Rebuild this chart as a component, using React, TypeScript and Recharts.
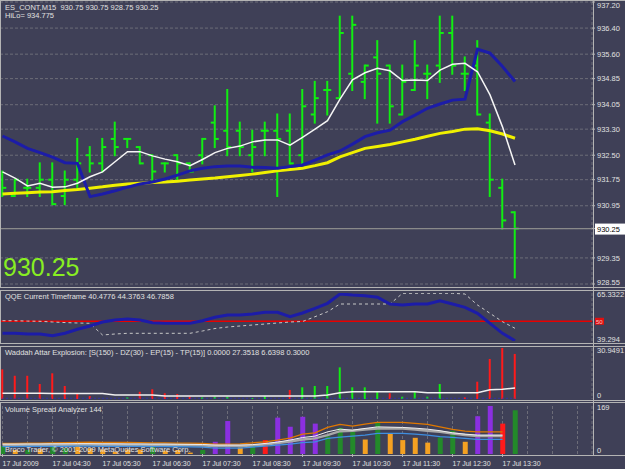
import React from 'react';
import {
  ComposedChart,
  Bar,
  Line,
  XAxis,
  YAxis,
  CartesianGrid,
  ReferenceLine,
  Cell
} from 'recharts';

const FONT = '"Liberation Sans", Arial, sans-serif';
const BG = '#3f4057';
const GRID = '#6c6c78';
const TEXT = '#e0e0e0';
const W = 625;
const X_DOMAIN = [-0.2, 47.16];
const GRID_TICKS = [0, 2, 4, 6, 8, 10, 12, 14, 16, 18, 20, 22, 24, 26, 28, 30, 32, 34, 36, 38, 40, 42, 44, 46];
const TIME_TICKS = [0, 4, 8, 12, 16, 20, 24, 28, 32, 36, 40];
const timeLabels = ['17 Jul 2009', '17 Jul 04:30', '17 Jul 05:30', '17 Jul 06:30', '17 Jul 07:30', '17 Jul 08:30',
  '17 Jul 09:30', '17 Jul 10:30', '17 Jul 11:30', '17 Jul 12:30', '17 Jul 13:30'];

// price bars (ES_CONT, M15)
const opens = [931.75, 931.25, 931.5, 931.5, 931.75, 931.25, 931.75, 932.5, 932.25, 933.0, 933.0, 932.75, 932.5, 932.25,
  932.5, 932.25, 932.5, 933.5, 933.25, 933.25, 932.5, 933.25, 933.25, 933.25, 932.5, 933.75, 934.5, 934.25,
  935.0, 934.75, 935.5, 935.25, 933.75, 934.5, 935.0, 935.25, 936.25, 935.0, 935.25, 933.5, 931.5, 930.75];
const highs = [932.0, 931.75, 931.75, 932.25, 932.25, 932.0, 933.0, 932.75, 933.0, 933.5, 933.0, 932.75, 932.5, 932.25,
  932.5, 932.25, 933.0, 934.0, 934.5, 933.5, 933.25, 933.5, 933.75, 933.75, 934.5, 934.75, 934.75, 936.75,
  936.75, 935.25, 936.0, 935.25, 935.25, 936.0, 935.25, 936.75, 936.75, 935.5, 936.0, 933.75, 931.75, 930.75];
const lows = [931.25, 931.25, 931.25, 931.25, 931.0, 931.0, 931.5, 932.0, 932.0, 932.5, 932.75, 932.25, 931.75, 932.0,
  931.75, 932.0, 932.25, 932.75, 932.5, 932.5, 932.0, 932.5, 931.25, 932.25, 932.25, 933.5, 933.75, 934.25,
  934.5, 934.25, 933.5, 933.5, 933.75, 934.5, 934.25, 934.75, 935.0, 934.5, 933.75, 931.25, 930.25, 928.75];
const closes = [931.5, 931.75, 931.5, 931.75, 931.0, 931.75, 932.25, 932.25, 932.75, 932.75, 933.0, 932.25, 932.0, 932.25,
  932.25, 932.0, 933.0, 933.0, 932.75, 932.75, 932.75, 933.25, 933.0, 932.25, 934.0, 934.25, 934.5, 936.25,
  936.5, 935.25, 935.0, 934.0, 934.75, 935.25, 935.0, 936.25, 935.25, 935.0, 933.75, 931.75, 930.5, 930.25];
const whiteMa = [931.99, 931.8, 931.56, 931.64, 931.52, 931.53, 931.64, 931.84, 931.99, 932.3, 932.61, 932.61, 932.48,
  932.38, 932.3, 932.18, 932.37, 932.58, 932.71, 932.78, 932.91, 932.97, 932.97, 932.81, 933.05, 933.3, 933.56,
  934.22, 934.81, 935.03, 935.17, 935.09, 934.79, 934.81, 934.79, 935.11, 935.29, 935.32, 935.06, 934.35, 933.37, 932.2];
const blueMa = [933.09, 932.91, 932.71, 932.58, 932.44, 932.27, 932.25, 931.23, 931.31, 931.41, 931.52, 931.62, 931.68,
  931.77, 931.89, 932.02, 932.1, 932.15, 932.17, 932.17, 932.13, 932.12, 932.1, 932.15, 932.2, 932.35, 932.51,
  932.63, 932.84, 933.07, 933.19, 933.27, 933.53, 933.73, 933.94, 934.07, 934.19, 934.22, 935.75, 935.63, 935.22, 934.76];
const yellowMa = [931.31, 931.33, 931.35, 931.37, 931.38, 931.42, 931.45, 931.49, 931.53, 931.58, 931.62, 931.64, 931.66,
  931.68, 931.7, 931.74, 931.77, 931.8, 931.84, 931.88, 931.92, 931.97, 932.02, 932.06, 932.1, 932.18, 932.27,
  932.45, 932.58, 932.71, 932.77, 932.83, 932.91, 932.99, 933.08, 933.17, 933.23, 933.3, 933.31, 933.25, 933.15, 933.02];
const PRICE_TICKS = [937.2, 936.4, 935.6, 934.85, 934.05, 933.3, 932.5, 931.75, 930.95, 930.25, 929.35, 928.55];
const PRICE_MAX = 937.2;
const PRICE_MIN = 928.55;
const LAST = 930.25;

// QQE
const qqeFast = [43.47, 43.47, 43.09, 43.09, 42.16, 43.47, 45.64, 47.43, 49.6, 50.68, 51.23, 50.68, 49.22, 48.89, 48.89,
  48.89, 50.3, 52.15, 53.4, 53.4, 53.94, 54.86, 54.86, 52.47, 54.48, 57.03, 59.74, 64.79, 64.25, 63.87, 63.0, 59.36,
  58.82, 59.36, 59.36, 61.15, 59.36, 57.57, 54.32, 48.89, 43.47, 39.45];
const qqeSlow = [50.3, 50.3, 50.1, 49.98, 49.6, 49.3, 49.06, 48.89, 42.55, 43.09, 43.47, 43.47, 43.47, 43.47, 43.47, 43.47,
  44.72, 46.07, 46.88, 47.43, 47.97, 48.51, 49.06, 49.6, 49.87, 52.47, 55.18, 59.36, 59.36, 59.36, 59.36, 59.36, 65.17,
  65.17, 65.17, 65.17, 65.17, 64.79, 58.82, 54.32, 49.76, 46.18];

// Waddah Attar Explosion
const wadHist = [18.0, 14.1, 14.1, 9.1, 15.6, 7.9, 3.5, 1.8, 0, 0, 1.0, 4.4, 5.9, 3.5, 3.0, 1.5, 1.0, 1.4, 1.4, 0, 0.6, 1.8,
  0, 5.5, 7.1, 7.9, 7.9, 19.2, 7.1, 7.1, 4.4, 3.5, 1.4, 4.4, 1.4, 9.1, 0, 1.0, 10.5, 24.3, 30.95, 27.35];
const wadColors = ['r', 'r', 'r', 'r', 'r', 'r', 'r', 'r', 'r', 'r', 'g', 'r', 'r', 'r', 'r', 'r', 'g', 'g', 'g', 'g', 'g',
  'g', 'g', 'r', 'g', 'g', 'g', 'g', 'g', 'g', 'g', 'r', 'g', 'g', 'g', 'g', 'g', 'r', 'r', 'r', 'r', 'r'];
const explosion = [3.5, 3.5, 3.45, 3.45, 3.4, 3.4, 3.4, 3.35, 3.3, 2.45, 2.45, 2.4, 2.4, 1.85, 1.85, 1.8, 1.8, 1.8, 1.8,
  1.8, 1.8, 1.8, 1.8, 1.8, 1.8, 1.85, 2.45, 3.8, 4.4, 4.45, 4.45, 4.4, 4.4, 4.4, 3.85, 3.85, 3.8, 3.8, 3.8, 5.6, 5.9, 6.64];
const DEAD_ZONE = 0.3;

// Volume Spread Analyzer
const volumes = [28, 14, 14, 17, 37, 20, 41, 20, 16, 8, 16, 16, 31, 12, 14, 5, 14, 43, 116, 23, 31, 49, 128, 96, 131, 107,
  63, 92, 78, 51, 110, 72, 49, 57, 40, 58, 82, 43, 133, 169, 107, 154];
const volColors = ['g', 'o', 'g', 'o', 'g', 'g', 'o', 'o', 'o', 'o', 'o', 'o', 'g', 'o', 'o', 'o', 'g', 'p', 'p', 'o', 'g',
  'r', 'p', 'p', 'p', 'p', 'g', 'g', 'g', 'o', 'g', 'o', 'o', 'o', 'o', 'g', 'g', 'o', 'p', 'p', 'r', 'g'];
const volOrange = [37, 37.5, 38, 38.5, 39, 40, 41, 41.5, 41, 41, 40.5, 40, 39.5, 39, 38.5, 38, 37.5, 35, 35, 35.5, 39.5, 43,
  49, 56, 70, 74.5, 93.5, 104, 98, 105, 111, 111, 111, 107.5, 104, 95.5, 86.5, 80.5, 78, 78, 78, null];
const volWhite = [35, 35, 35.5, 35.5, 36, 36, 36.5, 36.5, 36, 36, 35.5, 35.5, 35, 35, 34.5, 34, 33.5, 31.5, 31.5, 31.5, 33,
  37, 42, 49, 58, 63, 78, 87.5, 84, 90, 95.5, 94.5, 93.5, 91, 87.5, 82, 74.5, 70, 66.5, 66.5, 66.5, null];
const volGray = [31.5, 31.5, 32, 32, 32.5, 32.5, 33, 33, 32.5, 32.5, 32, 32, 31.5, 31.5, 31, 30.5, 30, 28, 28, 28, 30, 33,
  38.5, 44, 51, 55, 66.5, 80.5, 82, 86, 90, 90, 90, 86, 82, 78, 72, 66.5, 63, 63, 63, null];
const volBlue = [26, 26, 26.5, 26.5, 27, 27, 27.5, 27.5, 27, 27, 26.5, 26.5, 26, 26, 25.5, 25, 24.5, 21, 21, 21, 24.5, 28,
  31.5, 35, 40, 43, 55, 59.5, 63, 66.5, 72.5, 72.5, 72.5, 70, 66.5, 61, 58.5, 55, 51.5, 51.5, 51.5, null];

const VOL_FILL: Record<string, string> = { g: '#238a2a', o: '#f5a122', p: '#8b2fe0', r: '#ff1a1a' };
const WAD_FILL: Record<string, string> = { g: '#11ee11', r: '#ff1a1a' };

const rows = highs.map((h, i) => ({
  i,
  o: opens[i],
  h,
  l: lows[i],
  c: closes[i],
  white: whiteMa[i],
  blue: blueMa[i],
  yellow: yellowMa[i],
  qFast: qqeFast[i],
  qSlow: qqeSlow[i],
  wad: wadHist[i],
  expl: explosion[i],
  dead: DEAD_ZONE,
  vol: volumes[i],
  vOrange: volOrange[i],
  vWhite: volWhite[i],
  vGray: volGray[i],
  vBlue: volBlue[i]
}));

const OhlcShape = (props: any) => {
  const { x, y, width, height, payload } = props;
  const top = Math.min(y, y + height);
  const span = Math.abs(height);
  const cx = x + width / 2;
  const range = payload.h - payload.l || 1;
  const py = (v: number) => top + ((payload.h - v) / range) * span;
  return (
    <g stroke="#11ee11" strokeWidth={2}>
      <line x1={cx} x2={cx} y1={top - 1} y2={top + span + 1} />
      <line x1={cx - 4} x2={cx} y1={py(payload.o)} y2={py(payload.o)} />
      <line x1={cx} x2={cx + 4} y1={py(payload.c)} y2={py(payload.c)} />
    </g>
  );
};

const PriceTick = (props: any) => {
  const { x, y, payload } = props;
  if (payload.value === LAST) {
    return (
      <g>
        <rect x={x - 2} y={y - 5} width={31} height={11} fill="#ffffff" />
        <text x={x} y={y} dy={3} fontSize={7.5} fontFamily={FONT} fill="#000">{LAST.toFixed(2)}</text>
      </g>
    );
  }
  // keep the extreme labels inside the window
  const dy = payload.value === PRICE_MAX ? 5.5 : payload.value === PRICE_MIN ? 1 : 2.7;
  return (
    <text x={x} y={y} dy={dy} fontSize={7.5} fontFamily={FONT} fill={TEXT}>{payload.value.toFixed(2)}</text>
  );
};

// tick labels in sub windows: extremes are pulled inside the pane
const makeSubTick = (fmt: (v: number) => string, topVal: number, topDy: number, botDy: number) => (props: any) => {
  const { x, y, payload } = props;
  if (payload.value === 50) {
    return (
      <g>
        <rect x={x - 2} y={y - 3.5} width={9} height={7} fill="#e01010" />
        <text x={x - 1} y={y} dy={2.5} fontSize={6} fontFamily={FONT} fill="#ffc0c0">50</text>
      </g>
    );
  }
  const dy = payload.value === topVal ? topDy : botDy;
  return (
    <text x={x} y={y} dy={dy} fontSize={7.5} fontFamily={FONT} fill={TEXT}>{fmt(payload.value)}</text>
  );
};

const QqeTick = makeSubTick((v) => String(v), 65.3322, 4, 1);
const WadTick = makeSubTick((v) => (v === 0 ? '0' : v.toFixed(4)), 30.9491, 5.4, -1.3);
const VolTick = makeSubTick((v) => String(v), 169, 4, -1.3);

const TimeTick = (props: any) => {
  const { x, y, payload } = props;
  const idx = TIME_TICKS.indexOf(payload.value);
  if (idx < 0) return <g />;
  return (
    <g>
      <line x1={x} x2={x} y1={y - 3} y2={y} stroke="#b0b0b0" />
      <text x={x} y={y} dy={8.5} fontSize={7} fontFamily={FONT} fill={TEXT}>{timeLabels[idx]}</text>
    </g>
  );
};

const gridAxis = (
  <XAxis type="number" dataKey="i" domain={X_DOMAIN} ticks={GRID_TICKS} allowDataOverflow interval={0}
    tick={false} axisLine={false} tickLine={false} height={0} />
);

const Label = ({ x, y, children, size = 7.5, color = TEXT }: any) => (
  <div style={{ position: 'absolute', left: x, top: y, fontFamily: FONT, fontSize: size, color,
    lineHeight: '10px', whiteSpace: 'nowrap' }}>{children}</div>
);

const Pane = ({ top, height }: any) => (
  <div style={{ position: 'absolute', left: 0, top, width: W, height, boxSizing: 'border-box',
    borderTop: '1px solid #b4b4b4', borderBottom: '1px solid #b4b4b4', borderLeft: '1px solid #b4b4b4',
    pointerEvents: 'none' }} />
);

export default function App() {
  return (
    <div style={{ position: 'absolute', left: 0, top: 0, width: W, height: 469, background: BG, overflow: 'hidden' }}>
      {/* main price window */}
      <div style={{ position: 'absolute', left: 0, top: 0 }}>
        <ComposedChart width={W} height={287} data={rows} margin={{ top: 2, right: 0, bottom: 3, left: 0 }}>
          <CartesianGrid stroke={GRID} strokeDasharray="3 2" />
          {gridAxis}
          <YAxis orientation="right" type="number" domain={[PRICE_MIN, PRICE_MAX]} allowDataOverflow ticks={PRICE_TICKS} interval={0}
            width={33} axisLine={false} tickSize={3} tickMargin={2} tickLine={{ stroke: '#b4b4b4' }} tick={<PriceTick />} />
          <ReferenceLine y={LAST} stroke="#8a8a8a" strokeWidth={1.3} />
          <Bar dataKey={(d: any) => [d.l, d.h]} barSize={2} shape={<OhlcShape />} isAnimationActive={false} />
          <Line dataKey="yellow" stroke="#f0f000" strokeWidth={3} dot={false} activeDot={false} isAnimationActive={false} />
          <Line dataKey="blue" stroke="#1c1ca8" strokeWidth={3} dot={false} activeDot={false} isAnimationActive={false} />
          <Line dataKey="white" stroke="#f5f5f5" strokeWidth={1.5} dot={false} activeDot={false} isAnimationActive={false} />
        </ComposedChart>
      </div>

      {/* QQE */}
      <div style={{ position: 'absolute', left: 0, top: 290 }}>
        <ComposedChart width={W} height={53} data={rows} margin={{ top: 3, right: 0, bottom: 2, left: 0 }}>
          <CartesianGrid stroke={GRID} strokeDasharray="3 2" horizontal={false} />
          {gridAxis}
          <YAxis orientation="right" type="number" domain={[39.294, 65.3322]} allowDataOverflow ticks={[39.294, 50, 65.3322]} interval={0}
            width={33} axisLine={false} tickSize={3} tickMargin={2} tickLine={false} tick={<QqeTick />} />
          <ReferenceLine y={50} stroke="#e80000" strokeWidth={1.5} />
          <Line dataKey="qSlow" stroke="#c8c8c8" strokeWidth={1} strokeDasharray="3 3" dot={false} activeDot={false} isAnimationActive={false} />
          <Line dataKey="qFast" stroke="#1c1ca8" strokeWidth={3} dot={false} activeDot={false} isAnimationActive={false} />
        </ComposedChart>
      </div>

      {/* Waddah Attar Explosion */}
      <div style={{ position: 'absolute', left: 0, top: 346 }}>
        <ComposedChart width={W} height={54} data={rows} margin={{ top: 2, right: 0, bottom: 1, left: 0 }}>
          <CartesianGrid stroke={GRID} strokeDasharray="3 2" horizontal={false} />
          {gridAxis}
          <YAxis orientation="right" type="number" domain={[0, 30.9491]} allowDataOverflow ticks={[0, 30.9491]} interval={0}
            width={33} axisLine={false} tickSize={3} tickMargin={2} tickLine={false} tick={<WadTick />} />
          <Bar dataKey="wad" barSize={2} isAnimationActive={false}>
            {rows.map((r, k) => <Cell key={k} fill={WAD_FILL[wadColors[k]]} />)}
          </Bar>
          <Line dataKey="dead" stroke="#2a2ad0" strokeWidth={1.5} strokeDasharray="1 3" dot={false} activeDot={false} isAnimationActive={false} />
          <Line dataKey="expl" stroke="#f0f0f0" strokeWidth={1.5} dot={false} activeDot={false} isAnimationActive={false} />
        </ComposedChart>
      </div>

      {/* Volume Spread Analyzer */}
      <div style={{ position: 'absolute', left: 0, top: 402 }}>
        <ComposedChart width={W} height={67} data={rows} margin={{ top: 4, right: 0, bottom: 0, left: 0 }}>
          <CartesianGrid stroke={GRID} strokeDasharray="3 2" horizontal={false} />
          <XAxis type="number" dataKey="i" domain={X_DOMAIN} ticks={GRID_TICKS} allowDataOverflow interval={0}
            height={15} axisLine={false} tickLine={false} tickSize={3} tickMargin={0} tick={<TimeTick />} />
          <YAxis orientation="right" type="number" domain={[0, 169]} allowDataOverflow ticks={[0, 169]} interval={0}
            width={33} axisLine={false} tickSize={3} tickMargin={2} tickLine={false} tick={<VolTick />} />
          <Bar dataKey="vol" barSize={5} isAnimationActive={false}>
            {rows.map((r, k) => <Cell key={k} fill={VOL_FILL[volColors[k]]} />)}
          </Bar>
          <Line dataKey="vOrange" stroke="#e07800" strokeWidth={1.3} dot={false} activeDot={false} isAnimationActive={false} />
          <Line dataKey="vGray" stroke="#a8a8a8" strokeWidth={2.5} dot={false} activeDot={false} isAnimationActive={false} />
          <Line dataKey="vWhite" stroke="#f0f0f0" strokeWidth={1} dot={false} activeDot={false} isAnimationActive={false} />
          <Line dataKey="vBlue" stroke="#3f8fe0" strokeWidth={1.3} dot={false} activeDot={false} isAnimationActive={false} />
        </ComposedChart>
      </div>

      <Pane top={0} height={288} />
      <Pane top={290} height={54} />
      <Pane top={346} height={55} />
      <Pane top={402} height={54} />
      <div style={{ position: 'absolute', left: 593, top: 0, width: 1, height: 456, background: '#b4b4b4' }} />

      <Label x={5} y={3}>ES_CONT,M15&nbsp;&nbsp;930.75 930.75 928.75 930.25</Label>
      <Label x={5} y={11}>HiLo= 934.775</Label>
      <Label x={3} y={252} size={25} color="#88ee22"><span style={{ lineHeight: '30px' }}>930.25</span></Label>
      <Label x={5} y={292}>QQE Current Timeframe 40.4776 44.3763 46.7858</Label>
      <Label x={5} y={348}>Waddah Attar Explosion: [S(150) - DZ(30) - EP(15) - TP(15)] 0.0000 27.3518 6.6398 0.3000</Label>
      <Label x={5} y={405}>Volume Spread Analyzer 144</Label>
      <Label x={5} y={445}>Broco Trader, © 2001-2009 MetaQuotes Software Corp.</Label>
    </div>
  );
}
